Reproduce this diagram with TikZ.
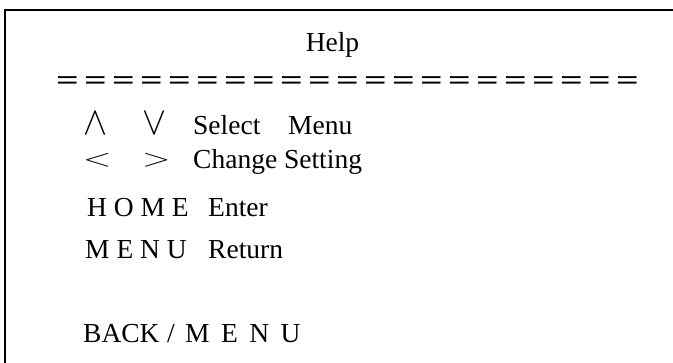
\documentclass[tikz,border=0pt]{standalone}
\usepackage{fontspec}
\setmainfont{Liberation Serif}
\usepackage{graphicx}

\begin{document}
\begin{tikzpicture}[x=1pt, y=-1pt,
    txt/.style={anchor=base west, inner sep=0pt, font=\fontsize{27.5}{33}\selectfont},
    keysym/.style={anchor=west, inner sep=0pt, font=\fontsize{27.5}{33}\selectfont},
    eqsign/.style={inner sep=0pt, font=\fontsize{27.5}{33}\selectfont\bfseries}]
  \useasboundingbox (0,0) rectangle (673,363);
  % screen frame, runs off to the right and below
  \coordinate (frameBL) at (5,363);
  \coordinate (frameTL) at (5,10);
  \coordinate (frameTR) at (673,10);
  \draw[line width=2.5pt] (frameBL) -- (frameTL) -- (frameTR);

  \node[txt, anchor=base] (title) at (332.5,52) {Help};

  % rule of equal signs under the title
  \foreach \i in {0,...,20}
    \node[eqsign] (eq\i) at (67.5+28*\i,83) {\scalebox{1.45}[1]{=}};

  % up / down
  \node[keysym, anchor=south west] (up)   at (83,135)  {\scalebox{1.45}[1.6]{$\wedge$}};
  \node[keysym, anchor=south west] (down) at (142,135) {\scalebox{1.45}[1.6]{$\vee$}};
  \node[txt] (select) at (193,135) {Select};
  \node[txt] (menu)   at (288,135) {Menu};

  % left / right
  \node[keysym] (left)  at (83,160)  {\scalebox{1.5}[1]{$<$}};
  \node[keysym] (right) at (142,160) {\scalebox{1.5}[1]{$>$}};
  \node[txt] (change) at (193,169) {Change Setting};

  \node[txt] (home)  at (87,217) {H O M E};
  \node[txt] (enter) at (208,217) {Enter};

  \node[txt] (menukey) at (85,259)  {M E N U};
  \node[txt] (return)  at (208,259) {Return};

  \node[txt] (back)     at (83,343)  {BACK};
  \node[txt] (slash)    at (167,343) {/};
  \node[txt] (backmenu) at (185,343) {M\,\ E\,\ N\,\ U};
\end{tikzpicture}
\end{document}
